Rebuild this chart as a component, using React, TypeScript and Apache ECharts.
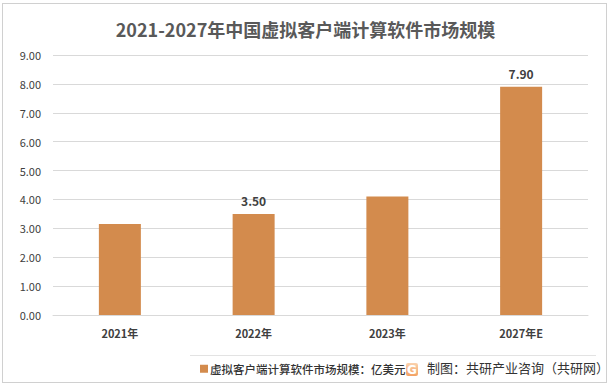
import React, { useEffect, useRef } from "react";
import * as echarts from "echarts";

const categories = ["2021年", "2022年", "2023年", "2027年E"];
const values = [3.15, 3.5, 4.1, 7.9];
const labeledIndexes = [1, 3];
const yTicks = { min: 0, max: 9, interval: 1 };
const titleText = "2021-2027年中国虚拟客户端计算软件市场规模";
const seriesName = "虚拟客户端计算软件市场规模：亿美元";
const sourceText = "制图：共研产业咨询（共研网）";

const FONT = "'Noto Sans CJK SC', 'Noto Sans', sans-serif";

export default function App() {
  const ref = useRef<HTMLDivElement>(null);
  useEffect(() => {
    if (!ref.current) return;
    const chart = echarts.init(ref.current, null, { renderer: "svg" });
    chart.setOption({
      animation: false,
      backgroundColor: "#ffffff",
      textStyle: { fontFamily: FONT },
      title: {
        text: titleText,
        left: "center",
        top: 15,
        textStyle: { fontSize: 18, fontWeight: "bold", color: "#595959", fontFamily: FONT },
      },
      grid: { left: 53, right: 23, top: 55, bottom: 74, containLabel: false },
      legend: {
        data: [seriesName],
        left: 195,
        top: 358,
        icon: "rect",
        itemWidth: 8,
        itemHeight: 8,
        itemGap: 4,
        textStyle: { fontSize: 11.5, color: "#333333", fontWeight: 500, fontFamily: FONT, padding: [0, 0, 0, -3] },
      },
      xAxis: {
        type: "category",
        data: categories,
        axisLine: { lineStyle: { color: "#d9d9d9", width: 1 } },
        axisTick: { show: false },
        axisLabel: { color: "#404040", fontSize: 11, fontWeight: "bold", margin: 12, fontFamily: FONT },
      },
      yAxis: {
        type: "value",
        min: yTicks.min,
        max: yTicks.max,
        interval: yTicks.interval,
        axisLine: { show: false },
        axisTick: { show: false },
        splitLine: { lineStyle: { color: "#d9d9d9", width: 1 } },
        axisLabel: {
          color: "#404040",
          fontSize: 11,
          margin: 12,
          fontFamily: FONT,
          formatter: (v: number) => v.toFixed(2),
        },
      },
      series: [
        {
          name: seriesName,
          type: "bar",
          barWidth: 42,
          itemStyle: { color: "#D38B4D" },
          data: values.map((v, i) => ({
            value: v,
            label: {
              show: labeledIndexes.includes(i),
              position: "top",
              distance: 7,
              color: "#404040",
              fontSize: 12,
              fontWeight: "bold",
              fontFamily: FONT,
              formatter: (p: any) => Number(p.value).toFixed(2),
            },
          })),
        },
      ],
      graphic: [
        {
          type: "line",
          shape: { x1: 190, y1: 355.5, x2: 596, y2: 355.5 },
          style: { stroke: "#e3e3e3", lineWidth: 1 },
          silent: true,
        },
        {
          type: "rect",
          shape: { x: 406, y: 363, width: 12, height: 13, r: 2 },
          style: {
            fill: new echarts.graphic.LinearGradient(0, 0, 0, 1, [
              { offset: 0, color: "#f9c79a" },
              { offset: 1, color: "#f08a3c" },
            ]),
            opacity: 0.8,
          },
          silent: true,
        },
        {
          type: "text",
          x: 412,
          y: 369.5,
          style: {
            text: "G",
            fontSize: 12,
            fontWeight: "bold",
            fontFamily: "'DejaVu Sans', sans-serif",
            fill: "#ffffff",
            align: "center",
            verticalAlign: "middle",
          },
          silent: true,
        },
        {
          type: "text",
          x: 427,
          y: 361,
          style: { text: sourceText, fontSize: 13, fill: "#333333", fontFamily: FONT },
          silent: true,
        },
      ],
    });
    return () => chart.dispose();
  }, []);
  return (
    <div style={{ position: "absolute", left: 0, top: 0, width: 611, height: 389 }}>
      <div ref={ref} style={{ width: 611, height: 389 }} />
      <div
        style={{
          position: "absolute",
          left: 2,
          top: 3,
          width: 603,
          height: 378,
          border: "1px solid #d0d0d0",
          pointerEvents: "none",
        }}
      />
    </div>
  );
}
